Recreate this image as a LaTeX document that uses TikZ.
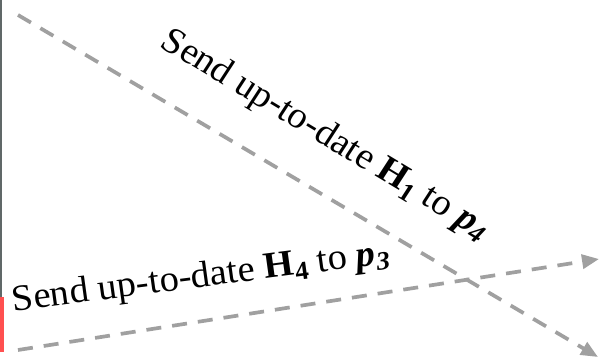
\documentclass[tikz,border=0pt]{standalone}
\usepackage{fontspec}
\setmainfont{Liberation Serif}
\usetikzlibrary{arrows.meta}
\definecolor{arrowgray}{HTML}{A0A0A0}
\definecolor{edgegray}{HTML}{606868}
\definecolor{barred}{HTML}{FF5050}
\newcommand{\subbf}[1]{\raisebox{-0.35ex}{\fontsize{26}{26}\selectfont\textbf{#1}}}
\tikzset{
  msgarrow/.style={draw=arrowgray, line width=3.7pt, dash pattern=on 15pt off 11pt,
    -{Triangle[length=17pt,width=14pt]}},
  msglabel/.style={font=\fontsize{37}{38}\selectfont, inner sep=0pt, anchor=base, xscale=1.04}
}
\begin{document}
\begin{tikzpicture}[x=1pt,y=-1pt]
\useasboundingbox (0,0) rectangle (600,363);
\fill[white] (0,0) rectangle (600,363);
\fill[edgegray] (0,0) rectangle (1.5,297);
\fill[barred] (0,297) rectangle (3.5,352);
\coordinate (s1) at (18,15);
\coordinate (e1) at (598,357);
\coordinate (s2) at (18,350);
\coordinate (e2) at (599,259);
\draw[msgarrow] (s1) -- (e1);
\draw[msgarrow] (s2) -- (e2);
\node[msglabel, rotate=-32] (t1) at (320,143) {Send up-to-date \textbf{H}\subbf{1} to \textbf{\textit{p}}\subbf{\textit{4}}};
\node[msglabel, rotate=7.6] (t2) at (202,287) {Send up-to-date \textbf{H}\subbf{4} to \textbf{\textit{p}}\subbf{\textit{3}}};
\end{tikzpicture}
\end{document}
